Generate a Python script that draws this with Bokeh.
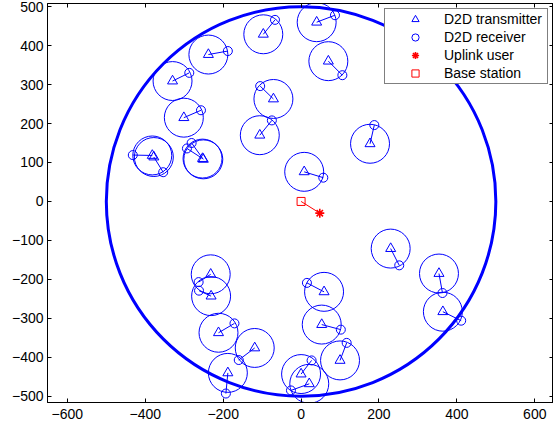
from bokeh.plotting import figure
from bokeh.models import Range1d, FixedTicker, LinearAxis, Legend, LegendItem
from bokeh.embed import file_html
from bokeh.resources import INLINE

# D2D transmitters (triangles) and their receivers (small circles)
tx_x = [-238, -330, -301, -382, -378, -253, -251, -97, -71, -106, 40, 70, 177, 8,
        -232, -231, -212, -119, -188, 230, 354, 364, 59, 53, 100, 0, 21]
tx_y = [377, 309, 215, 118, 114, 110, 108, 429, 263, 170, 460, 360, 148, 76,
        -187, -243, -337, -376, -440, -121, -185, -283, -232, -316, -408, -443, -468]
rx_x = [-188, -287, -257, -432, -354, -293, -281, -67, -105, -75, 87, 106, 188, 57,
        -263, -262, -171, -160, -193, 252, 363, 411, 15, 102, 117, 27, -26]
rx_y = [386, 330, 234, 119, 75, 136, 150, 466, 296, 208, 478, 324, 196, 61,
        -207, -229, -313, -407, -493, -164, -235, -306, -209, -329, -363, -408, -485]
d2d_radius = [50] * len(tx_x)

# Base station and uplink user
bs_x = [0]
bs_y = [0]
ue_x = [48]
ue_y = [-30]
cell_radius = [500]

x_ticks = [-600, -400, -200, 0, 200, 400, 600]
y_ticks = [-500, -400, -300, -200, -100, 0, 100, 200, 300, 400, 500]

FONT = "Liberation Sans"
BLUE = "#0000FF"
RED = "#FF0000"

p = figure(frame_width=506, frame_height=399, output_backend="svg", toolbar_location=None,
           x_range=Range1d(-651, 648), y_range=Range1d(-516, 508),
           min_border_left=47, min_border_right=0, min_border_top=3, min_border_bottom=0)
p.xgrid.visible = False
p.ygrid.visible = False
p.outline_line_color = "black"
p.outline_line_width = 1
p.background_fill_color = "white"
p.border_fill_color = "white"

def style_axis(ax, ticks, labels=True):
    ax.ticker = FixedTicker(ticks=ticks)
    ax.major_tick_in = 4
    ax.major_tick_out = 0
    ax.minor_tick_line_color = None
    ax.axis_line_color = "black"
    ax.major_tick_line_color = "black"
    if labels:
        ax.major_label_text_font = FONT
        ax.major_label_text_font_size = "14px"
        ax.major_label_text_color = "black"
        ax.major_label_overrides = {t: str(t).replace("-", "\u2212") for t in ticks}
    else:
        ax.major_label_text_color = None
        ax.major_label_text_font_size = "0px"
        ax.major_label_standoff = 0

style_axis(p.xaxis[0], x_ticks)
p.xaxis[0].major_label_standoff = 6
style_axis(p.yaxis[0], y_ticks)
p.yaxis[0].major_label_standoff = 4

top_ax = LinearAxis()
style_axis(top_ax, x_ticks, labels=False)
p.add_layout(top_ax, "above")
right_ax = LinearAxis()
style_axis(right_ax, y_ticks, labels=False)
p.add_layout(right_ax, "right")

# cell boundary
p.circle(x=bs_x, y=bs_y, radius=cell_radius, fill_color=None, line_color=BLUE, line_width=3)
# D2D coverage circles
p.circle(x=tx_x, y=tx_y, radius=d2d_radius, fill_color=None, line_color=BLUE, line_width=1)
# links
p.segment(x0=tx_x, y0=tx_y, x1=rx_x, y1=rx_y, line_color=BLUE, line_width=1)
p.segment(x0=bs_x, y0=bs_y, x1=ue_x, y1=ue_y, line_color=RED, line_width=1)

r_tx = p.scatter(x=tx_x, y=tx_y, marker="triangle", size=10, fill_color=None, line_color=BLUE, line_width=1)
r_rx = p.scatter(x=rx_x, y=rx_y, marker="circle", size=9, fill_color=None, line_color=BLUE, line_width=1)
r_ue = p.scatter(x=ue_x, y=ue_y, marker="asterisk", size=9, line_color=RED, line_width=1.6)
r_bs = p.scatter(x=bs_x, y=bs_y, marker="square", size=8, fill_color=None, line_color=RED, line_width=1)

legend = Legend(items=[
    LegendItem(label="D2D transmitter", renderers=[r_tx]),
    LegendItem(label="D2D receiver", renderers=[r_rx]),
    LegendItem(label="Uplink user", renderers=[r_ue]),
    LegendItem(label="Base station", renderers=[r_bs]),
], location="top_right")
legend.label_text_font = FONT
legend.label_text_font_size = "14px"
legend.label_text_color = "black"
legend.border_line_color = "black"
legend.border_line_width = 1
legend.background_fill_color = "white"
legend.background_fill_alpha = 1
legend.padding = 1
legend.spacing = 0
legend.label_height = 18
legend.glyph_height = 18
legend.glyph_width = 58
legend.label_standoff = 0
legend.label_width = 102
legend.margin = 5
p.add_layout(legend, "center")

open("out.html", "w").write(file_html(p, INLINE))
